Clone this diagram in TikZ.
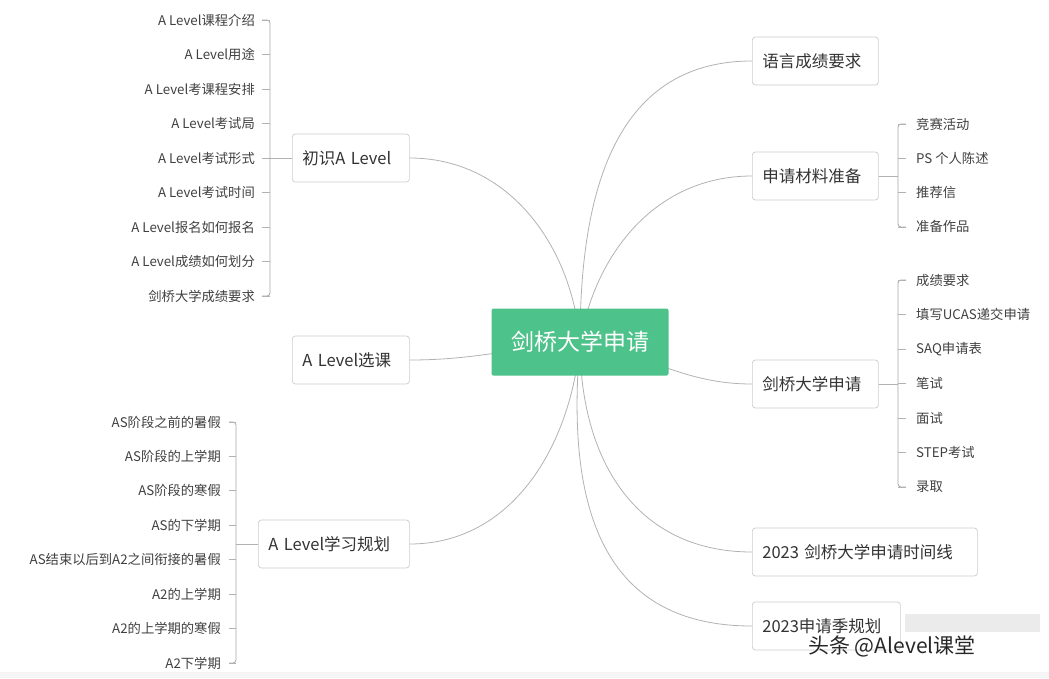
\documentclass[tikz,border=0pt]{standalone}
\usepackage{fontspec}
\setmainfont{Noto Sans CJK SC}
\definecolor{rootg}{HTML}{4DC28A}
\begin{document}
\begin{tikzpicture}[x=1pt,y=-1pt,
  conn/.style={draw=black!30,line width=0.8pt},
  brk/.style={draw=black!35,line width=0.8pt,rounded corners=3pt},
  br/.style={draw=black!20,fill=white,rounded corners=3pt,line width=0.7pt,font=\fontsize{16.5}{19}\selectfont,text=black!80,minimum height=48pt,inner xsep=10pt,anchor=west,align=left},
  lfL/.style={font=\fontsize{13.3}{15}\selectfont,text=black!75,anchor=east,inner sep=0pt},
  lfR/.style={font=\fontsize{13.3}{15}\selectfont,text=black!75,anchor=west,inner sep=0pt}]
\useasboundingbox (0,0) rectangle (1049,678);
\fill[black!4] (0,672) rectangle (1049,678);
\coordinate (root) at (580,342);
% branches right
\node[br,text width=106pt] (r1) at (752,61) {语言成绩要求};
\node[br,text width=106pt] (r2) at (752,176) {申请材料准备};
\node[br,text width=106pt] (r3) at (752,384) {剑桥大学申请};
\node[br,text width=205pt] (r4) at (752,552) {2023 剑桥大学申请时间线};
\node[br,text width=128pt] (r5) at (752,626) {2023申请季规划};
% branches left
\node[br,text width=97pt] (l1) at (292,158) {初识A Level};
\node[br,text width=97pt] (l2) at (292,360) {A Level选课};
\node[br,text width=131pt] (l3) at (258,544) {A Level学习规划};
% connectors
\path[conn] (root) to[out=90,in=180,looseness=1.1] (r1.west);
\path[conn] (root) to[out=80,in=180] (r2.west);
\path[conn] (root) to[out=-10,in=180] (r3.west);
\path[conn] (root) to[out=-90,in=180,looseness=1.1] (r4.west);
\path[conn] (root) to[out=-95,in=180,looseness=1.2] (r5.west);
\path[conn] (root) to[out=95,in=0] (l1.east);
\path[conn] (root) to[out=185,in=0] (l2.east);
\path[conn] (root) to[out=-95,in=0] (l3.east);
\node[fill=rootg,rounded corners=2pt,minimum width=177pt,minimum height=67pt,text=white,font=\fontsize{23}{26}\selectfont] (rootbox) at (root) {剑桥大学申请};
% left leaves 1
\coordinate (b1) at (270,158);
\path[conn] (l1.west) -- (b1);
\path[brk] (262,20) -- (270,20) -- (270,296) -- (262,296);
\foreach \t [count=\i] in {A Level课程介绍,A Level用途,A Level考课程安排,A Level考试局,A Level考试形式,A Level考试时间,A Level报名如何报名,A Level成绩如何划分,剑桥大学成绩要求}{
  \pgfmathsetmacro\yy{20+34.5*(\i-1)}
  \path[conn] (262,\yy) -- (270,\yy);
  \node[lfL] (la\i) at (255,\yy) {\t};
}
% left leaves 3
\path[conn] (l3.west) -- (236,544);
\path[brk] (229,422) -- (236,422) -- (236,663) -- (229,663);
\foreach \t [count=\i] in {AS阶段之前的暑假,AS阶段的上学期,AS阶段的寒假,AS的下学期,AS结束以后到A2之间衔接的暑假,A2的上学期,A2的上学期的寒假,A2下学期}{
  \pgfmathsetmacro\yy{422+34.43*(\i-1)}
  \path[conn] (229,\yy) -- (236,\yy);
  \node[lfL] (lc\i) at (221,\yy) {\t};
}
% right leaves 2
\path[conn] (r2.east) -- (898,176);
\path[brk] (906,124) -- (898,124) -- (898,227) -- (906,227);
\foreach \t [count=\i] in {竞赛活动,PS 个人陈述,推荐信,准备作品}{
  \pgfmathsetmacro\yy{124+34.3*(\i-1)}
  \path[conn] (898,\yy) -- (906,\yy);
  \node[lfR] (rb\i) at (916,\yy) {\t};
}
% right leaves 3
\path[conn] (r3.east) -- (898,384);
\path[brk] (906,280) -- (898,280) -- (898,487) -- (906,487);
\foreach \t [count=\i] in {成绩要求,填写UCAS递交申请,SAQ申请表,笔试,面试,STEP考试,录取}{
  \pgfmathsetmacro\yy{280+34.5*(\i-1)}
  \path[conn] (898,\yy) -- (906,\yy);
  \node[lfR] (rc\i) at (916,\yy) {\t};
}
% watermark
\fill[black!8] (905,614) rectangle (1040,632);
\node[font=\fontsize{21}{24}\selectfont,text=black!85,anchor=west,inner sep=0pt] (wm) at (808,646) {头条 @Alevel课堂};
\end{tikzpicture}
\end{document}
